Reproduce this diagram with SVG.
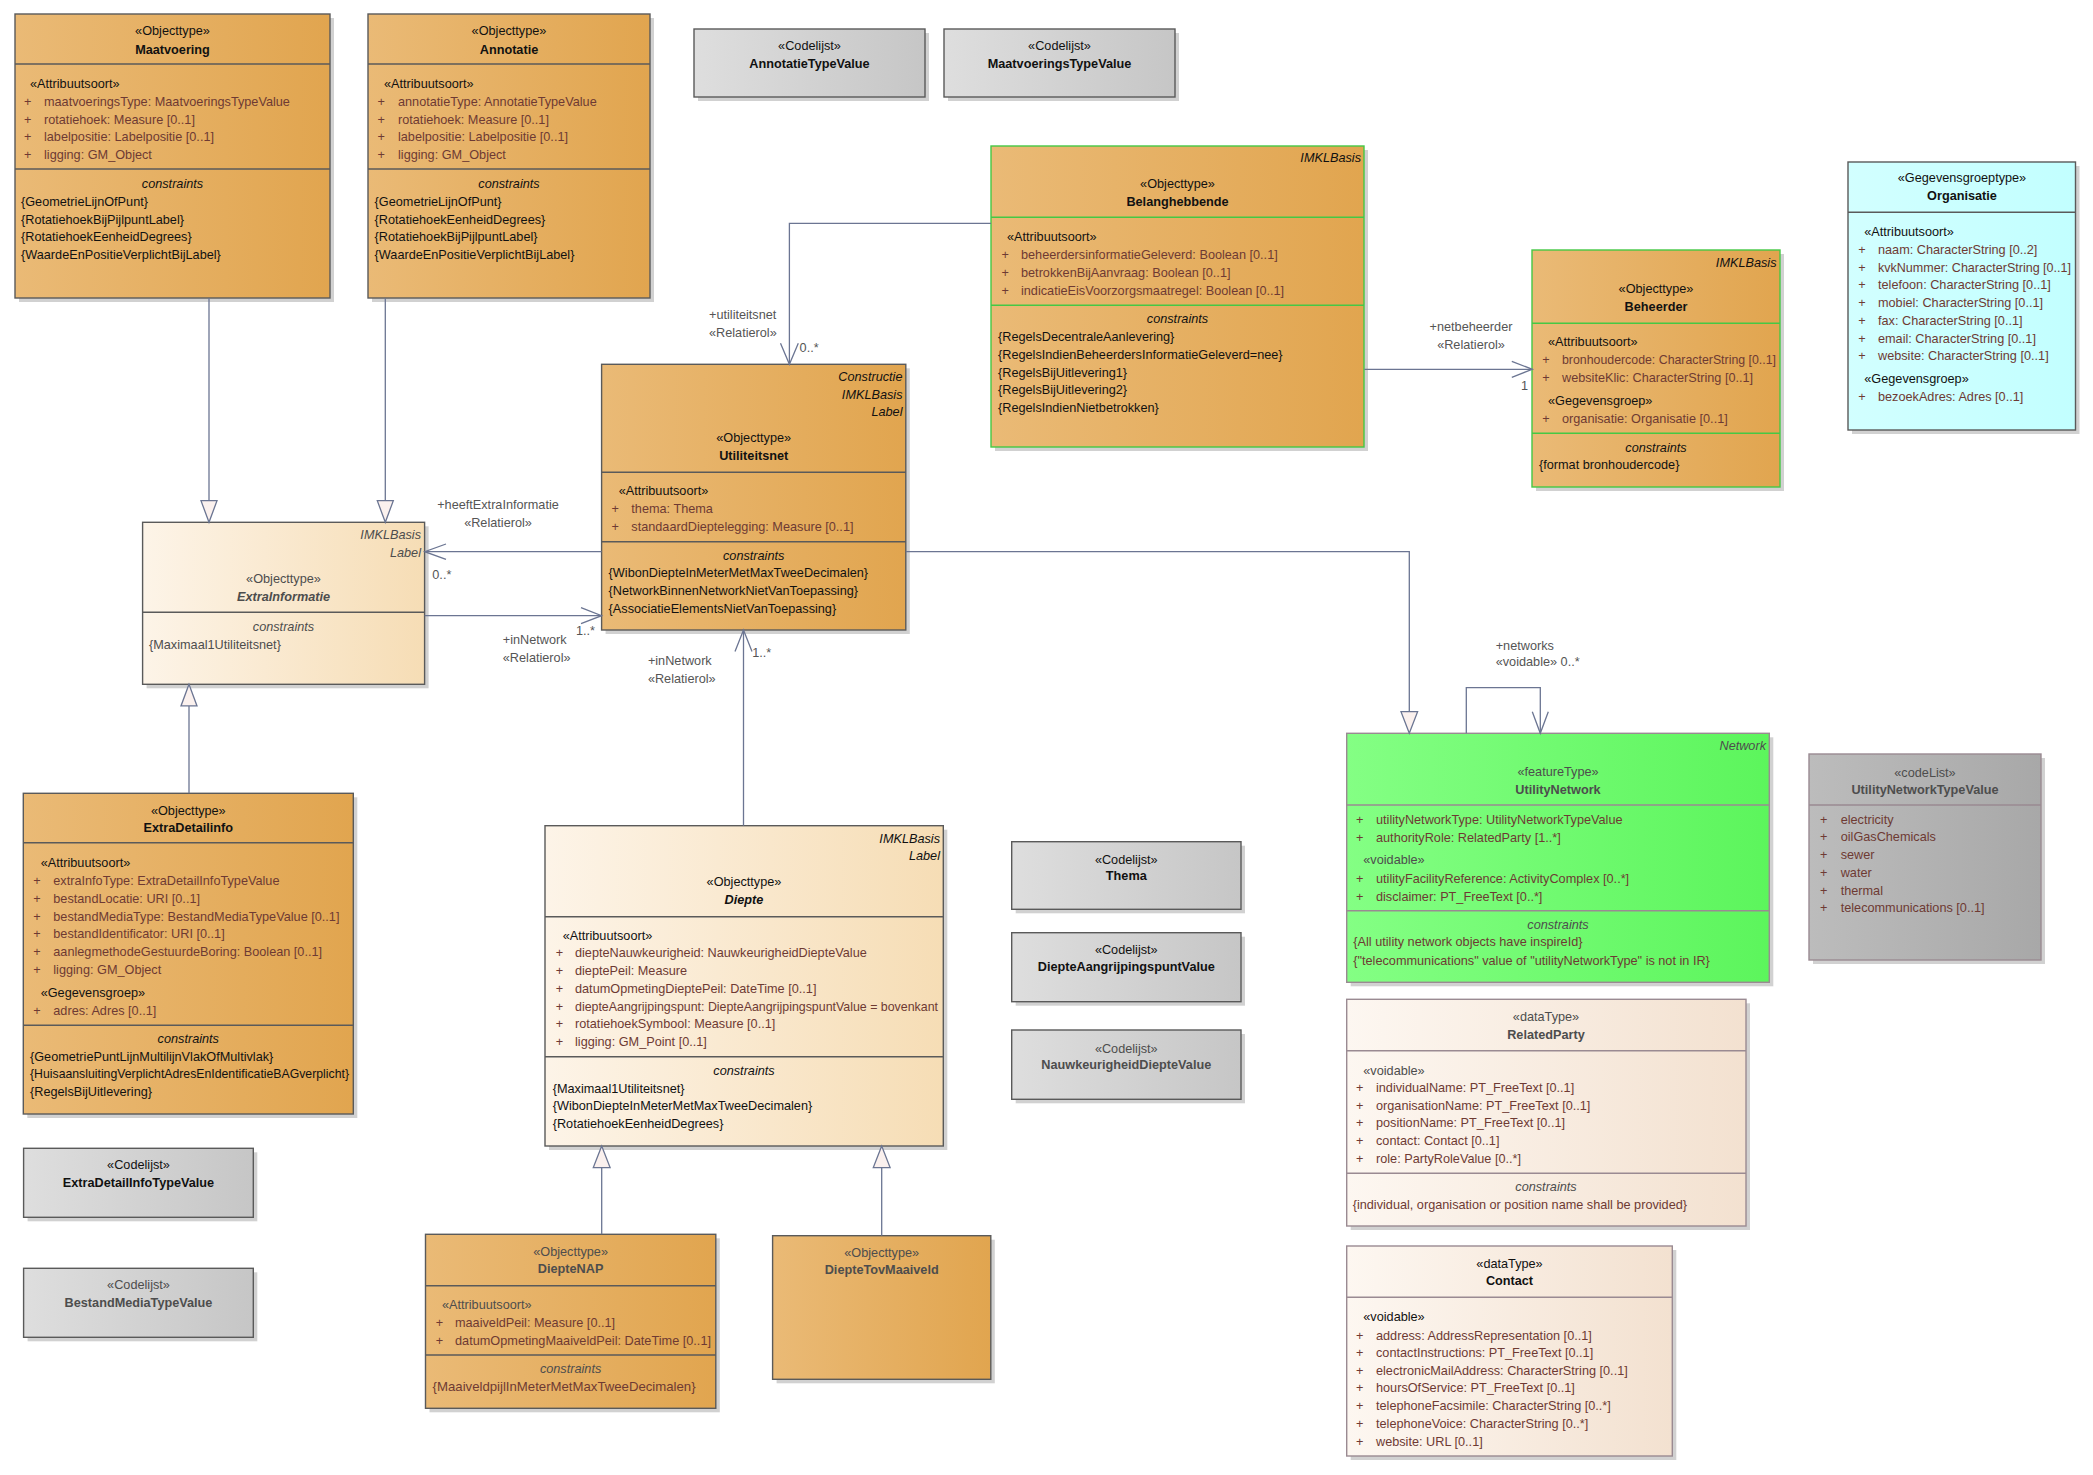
<svg xmlns="http://www.w3.org/2000/svg" width="2093" height="1475" viewBox="0 0 2093 1475">
<defs>
<linearGradient id="gO" x1="0" x2="1" y1="0" y2="0"><stop offset="0" stop-color="#EABA76"/><stop offset="1" stop-color="#E1A54F"/></linearGradient>
<linearGradient id="gC" x1="0" x2="1" y1="0" y2="0"><stop offset="0" stop-color="#FDF4E8"/><stop offset="1" stop-color="#F6DDB5"/></linearGradient>
<linearGradient id="gG" x1="0" x2="1" y1="0" y2="0"><stop offset="0" stop-color="#DEDEDE"/><stop offset="1" stop-color="#C6C6C6"/></linearGradient>
<linearGradient id="gY" x1="0" x2="1" y1="0" y2="0"><stop offset="0" stop-color="#D2FFFF"/><stop offset="1" stop-color="#C2FFFF"/></linearGradient>
<linearGradient id="gN" x1="0" x2="1" y1="0" y2="0"><stop offset="0" stop-color="#84FF84"/><stop offset="1" stop-color="#5CF55C"/></linearGradient>
<linearGradient id="gD" x1="0" x2="1" y1="0" y2="0"><stop offset="0" stop-color="#BCBCBC"/><stop offset="1" stop-color="#A8A8A8"/></linearGradient>
<linearGradient id="gB" x1="0" x2="1" y1="0" y2="0"><stop offset="0" stop-color="#FDF7F1"/><stop offset="1" stop-color="#F3E1D0"/></linearGradient>
</defs>
<style>
text { font-family: "Liberation Sans", Arial, sans-serif; font-size: 12.7px; fill: #111; }
.b { font-weight: bold; }
.i { font-style: italic; }
.m { text-anchor: middle; }
.e { text-anchor: end; }
.a { fill: #6E3A33; }
.g { fill: #4d4d4d; }
.lb { fill: #555; }
.sh { fill: #c6c6c6; opacity: 0.8; }
.bx { stroke: #5a5a5a; stroke-width: 1.4; }
.gr { stroke: #45C845; stroke-width: 1.4; }
.pu { stroke: #9A8A92; stroke-width: 1.4; }
.cn { stroke: #6B7592; stroke-width: 1.3; fill: none; }
.tri { fill: #FBF1EE; stroke: #6B7592; stroke-width: 1.3; }
</style>
<rect width="2093" height="1475" fill="#ffffff"/>

<g id="Maatvoering">
<rect class="sh" x="19" y="18" width="315" height="284"/>
<rect class="bx" x="15" y="14" width="315" height="284" fill="url(#gO)"/>
<line class="bx" x1="15" y1="64" x2="330" y2="64"/>
<line class="bx" x1="15" y1="169" x2="330" y2="169"/>
<text class="m" x="172.5" y="35.2">«Objecttype»</text>
<text class="m b" x="172.5" y="53.5">Maatvoering</text>
<text x="30" y="88">«Attribuutsoort»</text>
<text class="a" x="24" y="106.2">+</text><text class="a" x="44" y="106.2">maatvoeringsType: MaatvoeringsTypeValue</text>
<text class="a" x="24" y="123.8">+</text><text class="a" x="44" y="123.8">rotatiehoek: Measure [0..1]</text>
<text class="a" x="24" y="141.4">+</text><text class="a" x="44" y="141.4">labelpositie: Labelpositie [0..1]</text>
<text class="a" x="24" y="159">+</text><text class="a" x="44" y="159">ligging: GM_Object</text>
<text class="m i" x="172.5" y="188.2">constraints</text>
<text x="21" y="206.2">{GeometrieLijnOfPunt}</text>
<text x="21" y="223.7">{RotatiehoekBijPijlpuntLabel}</text>
<text x="21" y="241.2">{RotatiehoekEenheidDegrees}</text>
<text x="21" y="258.8">{WaardeEnPositieVerplichtBijLabel}</text>
</g>

<g id="Annotatie">
<rect class="sh" x="372" y="18" width="282" height="284"/>
<rect class="bx" x="368" y="14" width="282" height="284" fill="url(#gO)"/>
<line class="bx" x1="368" y1="64" x2="650" y2="64"/>
<line class="bx" x1="368" y1="169" x2="650" y2="169"/>
<text class="m" x="509" y="35.2">«Objecttype»</text>
<text class="m b" x="509" y="53.5">Annotatie</text>
<text x="384" y="88">«Attribuutsoort»</text>
<text class="a" x="377.6" y="106.2">+</text><text class="a" x="398" y="106.2">annotatieType: AnnotatieTypeValue</text>
<text class="a" x="377.6" y="123.8">+</text><text class="a" x="398" y="123.8">rotatiehoek: Measure [0..1]</text>
<text class="a" x="377.6" y="141.4">+</text><text class="a" x="398" y="141.4">labelpositie: Labelpositie [0..1]</text>
<text class="a" x="377.6" y="159">+</text><text class="a" x="398" y="159">ligging: GM_Object</text>
<text class="m i" x="509" y="188.2">constraints</text>
<text x="374.6" y="206.2">{GeometrieLijnOfPunt}</text>
<text x="374.6" y="223.7">{RotatiehoekEenheidDegrees}</text>
<text x="374.6" y="241.2">{RotatiehoekBijPijlpuntLabel}</text>
<text x="374.6" y="258.8">{WaardeEnPositieVerplichtBijLabel}</text>
</g>

<g id="AnnotatieTypeValue">
<rect class="sh" x="698" y="33" width="231" height="68"/>
<rect class="bx" x="694" y="29" width="231" height="68" fill="url(#gG)"/>
<text class="m" x="809.5" y="50.2">«Codelijst»</text>
<text class="m b" x="809.5" y="67.8">AnnotatieTypeValue</text>
</g>

<g id="MaatvoeringsTypeValue">
<rect class="sh" x="948" y="33" width="231" height="68"/>
<rect class="bx" x="944" y="29" width="231" height="68" fill="url(#gG)"/>
<text class="m" x="1059.5" y="50.2">«Codelijst»</text>
<text class="m b" x="1059.5" y="67.8">MaatvoeringsTypeValue</text>
</g>

<g id="Belanghebbende">
<rect class="sh" x="995" y="150" width="373" height="301"/>
<rect class="gr" x="991" y="146" width="373" height="301" fill="url(#gO)"/>
<line class="gr" x1="991" y1="217.3" x2="1364" y2="217.3"/>
<line class="gr" x1="991" y1="305.3" x2="1364" y2="305.3"/>
<text class="e i" x="1361" y="162">IMKLBasis</text>
<text class="m" x="1177.5" y="187.8">«Objecttype»</text>
<text class="m b" x="1177.5" y="205.8">Belanghebbende</text>
<text x="1007" y="241.2">«Attribuutsoort»</text>
<text class="a" x="1001.4" y="259.2">+</text><text class="a" x="1021" y="259.2">beheerdersinformatieGeleverd: Boolean [0..1]</text>
<text class="a" x="1001.4" y="277.2">+</text><text class="a" x="1021" y="277.2">betrokkenBijAanvraag: Boolean [0..1]</text>
<text class="a" x="1001.4" y="295.2">+</text><text class="a" x="1021" y="295.2">indicatieEisVoorzorgsmaatregel: Boolean [0..1]</text>
<text class="m i" x="1177.5" y="323.2">constraints</text>
<text x="998" y="341.2">{RegelsDecentraleAanlevering}</text>
<text x="998" y="359">{RegelsIndienBeheerdersInformatieGeleverd=nee}</text>
<text x="998" y="376.8">{RegelsBijUitlevering1}</text>
<text x="998" y="394.3">{RegelsBijUitlevering2}</text>
<text x="998" y="411.8">{RegelsIndienNietbetrokken}</text>
</g>

<g id="Beheerder">
<rect class="sh" x="1536" y="254" width="248" height="237"/>
<rect class="gr" x="1532" y="250" width="248" height="237" fill="url(#gO)"/>
<line class="gr" x1="1532" y1="323.3" x2="1780" y2="323.3"/>
<line class="gr" x1="1532" y1="433.3" x2="1780" y2="433.3"/>
<text class="e i" x="1776.5" y="267.2">IMKLBasis</text>
<text class="m" x="1656" y="292.8">«Objecttype»</text>
<text class="m b" x="1656" y="311.2">Beheerder</text>
<text x="1548" y="346.2">«Attribuutsoort»</text>
<text class="a" x="1542.3" y="364.2">+</text><text class="a" x="1562" y="364.2" textLength="214" lengthAdjust="spacingAndGlyphs">bronhoudercode: CharacterString [0..1]</text>
<text class="a" x="1542.3" y="382.2">+</text><text class="a" x="1562" y="382.2">websiteKlic: CharacterString [0..1]</text>
<text x="1548" y="404.5">«Gegevensgroep»</text>
<text class="a" x="1542.3" y="423.2">+</text><text class="a" x="1562" y="423.2">organisatie: Organisatie [0..1]</text>
<text class="m i" x="1656" y="452.2">constraints</text>
<text x="1539" y="468.8">{format bronhoudercode}</text>
</g>

<g id="Organisatie">
<rect class="sh" x="1852" y="166" width="227.5" height="268"/>
<rect class="bx" x="1848" y="162" width="227.5" height="268" fill="url(#gY)"/>
<line class="bx" x1="1848" y1="212.3" x2="2075.5" y2="212.3"/>
<text class="m" x="1962" y="182.2">«Gegevensgroeptype»</text>
<text class="m b" x="1962" y="200.2">Organisatie</text>
<text x="1864.3" y="235.8">«Attribuutsoort»</text>
<text class="a" x="1858.3" y="253.8">+</text><text class="a" x="1878" y="253.8">naam: CharacterString [0..2]</text>
<text class="a" x="1858.3" y="271.5">+</text><text class="a" x="1878" y="271.5" textLength="193" lengthAdjust="spacingAndGlyphs">kvkNummer: CharacterString [0..1]</text>
<text class="a" x="1858.3" y="289.2">+</text><text class="a" x="1878" y="289.2">telefoon: CharacterString [0..1]</text>
<text class="a" x="1858.3" y="307">+</text><text class="a" x="1878" y="307">mobiel: CharacterString [0..1]</text>
<text class="a" x="1858.3" y="324.8">+</text><text class="a" x="1878" y="324.8">fax: CharacterString [0..1]</text>
<text class="a" x="1858.3" y="342.5">+</text><text class="a" x="1878" y="342.5">email: CharacterString [0..1]</text>
<text class="a" x="1858.3" y="360.2">+</text><text class="a" x="1878" y="360.2">website: CharacterString [0..1]</text>
<text x="1864.3" y="383.2">«Gegevensgroep»</text>
<text class="a" x="1858.3" y="401.2">+</text><text class="a" x="1878" y="401.2">bezoekAdres: Adres [0..1]</text>
</g>

<g id="ExtraInformatie">
<rect class="sh" x="146.6" y="526.3" width="282" height="162"/>
<rect class="bx" x="142.6" y="522.3" width="282" height="162" fill="url(#gC)"/>
<line class="bx" x1="142.6" y1="612.3" x2="424.6" y2="612.3"/>
<text class="e i g" x="421" y="538.8">IMKLBasis</text>
<text class="e i g" x="421" y="556.8">Label</text>
<text class="m g" x="283.5" y="583.2">«Objecttype»</text>
<text class="m b i g" x="283.5" y="601.2">ExtraInformatie</text>
<text class="m i g" x="283.5" y="631.2">constraints</text>
<text class="g" x="149" y="648.8">{Maximaal1Utiliteitsnet}</text>
</g>

<g id="Utiliteitsnet">
<rect class="sh" x="605.6" y="368.3" width="304.2" height="265.7"/>
<rect class="bx" x="601.6" y="364.3" width="304.2" height="265.7" fill="url(#gO)"/>
<line class="bx" x1="601.6" y1="472.3" x2="905.8" y2="472.3"/>
<line class="bx" x1="601.6" y1="541.7" x2="905.8" y2="541.7"/>
<text class="e i" x="902.5" y="381.2">Constructie</text>
<text class="e i" x="902.5" y="398.5">IMKLBasis</text>
<text class="e i" x="902.5" y="416.2">Label</text>
<text class="m" x="753.7" y="442.2">«Objecttype»</text>
<text class="m b" x="753.7" y="459.8">Utiliteitsnet</text>
<text x="618.7" y="495.2">«Attribuutsoort»</text>
<text class="a" x="611.6" y="513.2">+</text><text class="a" x="631.3" y="513.2">thema: Thema</text>
<text class="a" x="611.6" y="531.2">+</text><text class="a" x="631.3" y="531.2">standaardDieptelegging: Measure [0..1]</text>
<text class="m i" x="753.7" y="560.2">constraints</text>
<text x="608.6" y="577">{WibonDiepteInMeterMetMaxTweeDecimalen}</text>
<text x="608.6" y="595">{NetworkBinnenNetworkNietVanToepassing}</text>
<text x="608.6" y="612.8">{AssociatieElementsNietVanToepassing}</text>
</g>

<g id="ExtraDetailInfo">
<rect class="sh" x="27.3" y="797.3" width="330" height="320.7"/>
<rect class="bx" x="23.3" y="793.3" width="330" height="320.7" fill="url(#gO)"/>
<line class="bx" x1="23.3" y1="842.7" x2="353.3" y2="842.7"/>
<line class="bx" x1="23.3" y1="1025.3" x2="353.3" y2="1025.3"/>
<text class="m" x="188.3" y="814.5">«Objecttype»</text>
<text class="m b" x="188.3" y="832.2">ExtraDetailinfo</text>
<text x="40.7" y="866.8">«Attribuutsoort»</text>
<text class="a" x="33.3" y="885.2">+</text><text class="a" x="53.3" y="885.2">extraInfoType: ExtraDetailInfoTypeValue</text>
<text class="a" x="33.3" y="902.8">+</text><text class="a" x="53.3" y="902.8">bestandLocatie: URI [0..1]</text>
<text class="a" x="33.3" y="920.5">+</text><text class="a" x="53.3" y="920.5">bestandMediaType: BestandMediaTypeValue [0..1]</text>
<text class="a" x="33.3" y="938.3">+</text><text class="a" x="53.3" y="938.3">bestandIdentificator: URI [0..1]</text>
<text class="a" x="33.3" y="956.2">+</text><text class="a" x="53.3" y="956.2">aanlegmethodeGestuurdeBoring: Boolean [0..1]</text>
<text class="a" x="33.3" y="973.8">+</text><text class="a" x="53.3" y="973.8">ligging: GM_Object</text>
<text x="40.7" y="997.2">«Gegevensgroep»</text>
<text class="a" x="33.3" y="1015.2">+</text><text class="a" x="53.3" y="1015.2">adres: Adres [0..1]</text>
<text class="m i" x="188.3" y="1042.8">constraints</text>
<text x="30" y="1060.5">{GeometriePuntLijnMultilijnVlakOfMultivlak}</text>
<text x="30" y="1078.2" textLength="319" lengthAdjust="spacingAndGlyphs">{HuisaansluitingVerplichtAdresEnIdentificatieBAGverplicht}</text>
<text x="30" y="1096">{RegelsBijUitlevering}</text>
</g>

<g id="ExtraDetailInfoTypeValue">
<rect class="sh" x="27.6" y="1152.3" width="229.7" height="69"/>
<rect class="bx" x="23.6" y="1148.3" width="229.7" height="69" fill="url(#gG)"/>
<text class="m" x="138.5" y="1168.8">«Codelijst»</text>
<text class="m b" x="138.5" y="1187.2">ExtraDetailInfoTypeValue</text>
</g>

<g id="BestandMediaTypeValue">
<rect class="sh" x="27.6" y="1272.3" width="229.7" height="69"/>
<rect class="bx" x="23.6" y="1268.3" width="229.7" height="69" fill="url(#gG)"/>
<text class="m g" x="138.5" y="1288.8">«Codelijst»</text>
<text class="m b g" x="138.5" y="1307.2">BestandMediaTypeValue</text>
</g>

<g id="Diepte">
<rect class="sh" x="549" y="829.7" width="398.3" height="320.3"/>
<rect class="bx" x="545" y="825.7" width="398.3" height="320.3" fill="url(#gC)"/>
<line class="bx" x1="545" y1="916.7" x2="943.3" y2="916.7"/>
<line class="bx" x1="545" y1="1056.7" x2="943.3" y2="1056.7"/>
<text class="e i" x="940" y="842.8">IMKLBasis</text>
<text class="e i" x="940" y="859.5">Label</text>
<text class="m" x="744" y="886.2">«Objecttype»</text>
<text class="m b i" x="744" y="903.8">Diepte</text>
<text x="562.7" y="939.8">«Attribuutsoort»</text>
<text class="a" x="555.7" y="957.2">+</text><text class="a" x="575" y="957.2">diepteNauwkeurigheid: NauwkeurigheidDiepteValue</text>
<text class="a" x="555.7" y="975">+</text><text class="a" x="575" y="975">dieptePeil: Measure</text>
<text class="a" x="555.7" y="992.7">+</text><text class="a" x="575" y="992.7">datumOpmetingDieptePeil: DateTime [0..1]</text>
<text class="a" x="555.7" y="1010.6">+</text><text class="a" x="575" y="1010.6" textLength="363" lengthAdjust="spacingAndGlyphs">diepteAangrijpingspunt: DiepteAangrijpingspuntValue = bovenkant</text>
<text class="a" x="555.7" y="1028">+</text><text class="a" x="575" y="1028">rotatiehoekSymbool: Measure [0..1]</text>
<text class="a" x="555.7" y="1045.9">+</text><text class="a" x="575" y="1045.9">ligging: GM_Point [0..1]</text>
<text class="m i" x="744" y="1074.5">constraints</text>
<text x="552.7" y="1092.8">{Maximaal1Utiliteitsnet}</text>
<text x="552.7" y="1110.3">{WibonDiepteInMeterMetMaxTweeDecimalen}</text>
<text x="552.7" y="1127.8">{RotatiehoekEenheidDegrees}</text>
</g>

<g id="Thema">
<rect class="sh" x="1015.7" y="845.7" width="229.3" height="67.6"/>
<rect class="bx" x="1011.7" y="841.7" width="229.3" height="67.6" fill="url(#gG)"/>
<text class="m" x="1126.3" y="863.5">«Codelijst»</text>
<text class="m b" x="1126.3" y="879.5">Thema</text>
</g>

<g id="DiepteAangrijpingspuntValue">
<rect class="sh" x="1015.7" y="936.7" width="229.3" height="69"/>
<rect class="bx" x="1011.7" y="932.7" width="229.3" height="69" fill="url(#gG)"/>
<text class="m" x="1126.3" y="953.8">«Codelijst»</text>
<text class="m b" x="1126.3" y="971.2">DiepteAangrijpingspuntValue</text>
</g>

<g id="NauwkeurigheidDiepteValue">
<rect class="sh" x="1015.7" y="1034" width="229.3" height="69.3"/>
<rect class="bx" x="1011.7" y="1030" width="229.3" height="69.3" fill="url(#gG)"/>
<text class="m g" x="1126.3" y="1052.8">«Codelijst»</text>
<text class="m b g" x="1126.3" y="1068.8">NauwkeurigheidDiepteValue</text>
</g>

<g id="DiepteNAP">
<rect class="sh" x="429.5" y="1238.3" width="290.3" height="174"/>
<rect class="bx" x="425.5" y="1234.3" width="290.3" height="174" fill="url(#gO)"/>
<line class="bx" x1="425.5" y1="1285.7" x2="715.8" y2="1285.7"/>
<line class="bx" x1="425.5" y1="1355" x2="715.8" y2="1355"/>
<text class="m g" x="570.6" y="1255.5">«Objecttype»</text>
<text class="m b g" x="570.6" y="1272.8">DiepteNAP</text>
<text class="g" x="442" y="1308.8">«Attribuutsoort»</text>
<text class="a" x="435.8" y="1326.5">+</text><text class="a" x="455" y="1326.5">maaiveldPeil: Measure [0..1]</text>
<text class="a" x="435.8" y="1344.5">+</text><text class="a" x="455" y="1344.5" textLength="256" lengthAdjust="spacingAndGlyphs">datumOpmetingMaaiveldPeil: DateTime [0..1]</text>
<text class="m i g" x="570.6" y="1373.2">constraints</text>
<text class="a" x="432.6" y="1391.2" textLength="263" lengthAdjust="spacingAndGlyphs">{MaaiveldpijlInMeterMetMaxTweeDecimalen}</text>
</g>

<g id="DiepteTovMaaiveld">
<rect class="sh" x="776.6" y="1239.7" width="218.2" height="143.6"/>
<rect class="bx" x="772.6" y="1235.7" width="218.2" height="143.6" fill="url(#gO)"/>
<text class="m g" x="881.7" y="1257.2">«Objecttype»</text>
<text class="m b g" x="881.7" y="1274.2">DiepteTovMaaiveld</text>
</g>

<g id="UtilityNetwork">
<rect class="sh" x="1350.7" y="737.3" width="422.6" height="249"/>
<rect class="pu" x="1346.7" y="733.3" width="422.6" height="249" fill="url(#gN)"/>
<line class="pu" x1="1346.7" y1="805" x2="1769.3" y2="805"/>
<line class="pu" x1="1346.7" y1="910.7" x2="1769.3" y2="910.7"/>
<text class="e i g" x="1766" y="750.2">Network</text>
<text class="m g" x="1558" y="776.2">«featureType»</text>
<text class="m b g" x="1558" y="793.5">UtilityNetwork</text>
<text class="a" x="1356" y="823.5">+</text><text class="a" x="1376" y="823.5">utilityNetworkType: UtilityNetworkTypeValue</text>
<text class="a" x="1356" y="841.5">+</text><text class="a" x="1376" y="841.5">authorityRole: RelatedParty [1..*]</text>
<text class="g" x="1363.3" y="863.8">«voidable»</text>
<text class="a" x="1356" y="882.5">+</text><text class="a" x="1376" y="882.5">utilityFacilityReference: ActivityComplex [0..*]</text>
<text class="a" x="1356" y="900.5">+</text><text class="a" x="1376" y="900.5">disclaimer: PT_FreeText [0..*]</text>
<text class="m i g" x="1558" y="929.2">constraints</text>
<text class="a" x="1353.3" y="946.2">{All utility network objects have inspireId}</text>
<text class="a" x="1353.3" y="964.5">{"telecommunications" value of "utilityNetworkType" is not in IR}</text>
</g>

<g id="UtilityNetworkTypeValue">
<rect class="sh" x="1813" y="758" width="232" height="206"/>
<rect class="pu" x="1809" y="754" width="232" height="206" fill="url(#gD)"/>
<line class="pu" x1="1809" y1="805" x2="2041" y2="805"/>
<text class="m g" x="1925" y="777.2">«codeList»</text>
<text class="m b g" x="1925" y="793.5">UtilityNetworkTypeValue</text>
<text class="a" x="1820" y="823.5">+</text><text class="a" x="1840.7" y="823.5">electricity</text>
<text class="a" x="1820" y="841.2">+</text><text class="a" x="1840.7" y="841.2">oilGasChemicals</text>
<text class="a" x="1820" y="858.8">+</text><text class="a" x="1840.7" y="858.8">sewer</text>
<text class="a" x="1820" y="876.8">+</text><text class="a" x="1840.7" y="876.8">water</text>
<text class="a" x="1820" y="894.5">+</text><text class="a" x="1840.7" y="894.5">thermal</text>
<text class="a" x="1820" y="912.2">+</text><text class="a" x="1840.7" y="912.2">telecommunications [0..1]</text>
</g>

<g id="RelatedParty">
<rect class="sh" x="1350.7" y="1003.3" width="399.3" height="226.7"/>
<rect class="pu" x="1346.7" y="999.3" width="399.3" height="226.7" fill="url(#gB)"/>
<line class="pu" x1="1346.7" y1="1050.7" x2="1746" y2="1050.7"/>
<line class="pu" x1="1346.7" y1="1173.3" x2="1746" y2="1173.3"/>
<text class="m g" x="1546" y="1020.5">«dataType»</text>
<text class="m b g" x="1546" y="1038.8">RelatedParty</text>
<text class="g" x="1363.3" y="1074.5">«voidable»</text>
<text class="a" x="1356" y="1091.8">+</text><text class="a" x="1376" y="1091.8">individualName: PT_FreeText [0..1]</text>
<text class="a" x="1356" y="1109.6">+</text><text class="a" x="1376" y="1109.6">organisationName: PT_FreeText [0..1]</text>
<text class="a" x="1356" y="1127.3">+</text><text class="a" x="1376" y="1127.3">positionName: PT_FreeText [0..1]</text>
<text class="a" x="1356" y="1145.2">+</text><text class="a" x="1376" y="1145.2">contact: Contact [0..1]</text>
<text class="a" x="1356" y="1162.8">+</text><text class="a" x="1376" y="1162.8">role: PartyRoleValue [0..*]</text>
<text class="m i g" x="1546" y="1191.2">constraints</text>
<text class="a" x="1352.7" y="1208.8">{individual, organisation or position name shall be provided}</text>
</g>

<g id="Contact">
<rect class="sh" x="1350.7" y="1250" width="325.6" height="210"/>
<rect class="pu" x="1346.7" y="1246" width="325.6" height="210" fill="url(#gB)"/>
<line class="pu" x1="1346.7" y1="1297.3" x2="1672.3" y2="1297.3"/>
<text class="m" x="1509.5" y="1267.8">«dataType»</text>
<text class="m b" x="1509.5" y="1284.5">Contact</text>
<text x="1363.3" y="1321.2">«voidable»</text>
<text class="a" x="1356" y="1339.5">+</text><text class="a" x="1376" y="1339.5">address: AddressRepresentation [0..1]</text>
<text class="a" x="1356" y="1357.2">+</text><text class="a" x="1376" y="1357.2">contactInstructions: PT_FreeText [0..1]</text>
<text class="a" x="1356" y="1374.7">+</text><text class="a" x="1376" y="1374.7">electronicMailAddress: CharacterString [0..1]</text>
<text class="a" x="1356" y="1392.3">+</text><text class="a" x="1376" y="1392.3">hoursOfService: PT_FreeText [0..1]</text>
<text class="a" x="1356" y="1410.2">+</text><text class="a" x="1376" y="1410.2">telephoneFacsimile: CharacterString [0..*]</text>
<text class="a" x="1356" y="1427.8">+</text><text class="a" x="1376" y="1427.8">telephoneVoice: CharacterString [0..*]</text>
<text class="a" x="1356" y="1445.5">+</text><text class="a" x="1376" y="1445.5">website: URL [0..1]</text>
</g>

<g id="connectors">
<!-- Maatvoering -> ExtraInformatie -->
<line class="cn" x1="209" y1="298" x2="209" y2="500.7"/>
<polygon class="tri" points="209,522.3 201,500.7 217,500.7"/>
<!-- Annotatie -> ExtraInformatie -->
<line class="cn" x1="385.3" y1="298" x2="385.3" y2="500.7"/>
<polygon class="tri" points="385.3,522.3 377.3,500.7 393.3,500.7"/>
<!-- ExtraDetailInfo -> ExtraInformatie -->
<line class="cn" x1="189" y1="793.3" x2="189" y2="705.9"/>
<polygon class="tri" points="189,684.3 181,705.9 197,705.9"/>
<!-- Belanghebbende -> Utiliteitsnet -->
<polyline class="cn" points="991,223.3 789.4,223.3 789.4,364.3"/>
<polyline class="cn" points="780.5,343.3 789.4,364.3 798.3,343.3"/>
<text class="lb" x="709" y="318.8">+utiliteitsnet</text>
<text class="lb" x="709" y="336.8">«Relatierol»</text>
<text class="lb" x="799.6" y="352.2">0..*</text>
<!-- Belanghebbende -> Beheerder -->
<line class="cn" x1="1364.3" y1="369.3" x2="1532.3" y2="369.3"/>
<polyline class="cn" points="1511.8,361.3 1532.3,369.3 1511.8,377.3"/>
<text class="lb m" x="1471" y="331.2">+netbeheerder</text>
<text class="lb m" x="1471" y="348.8">«Relatierol»</text>
<text class="lb m" x="1524.6" y="389.5">1</text>
<!-- Utiliteitsnet -> ExtraInformatie (heeftExtraInformatie) -->
<line class="cn" x1="601.6" y1="551.7" x2="424.7" y2="551.7"/>
<polyline class="cn" points="446,544 424.7,551.7 446,559.4"/>
<text class="lb m" x="498" y="508.8">+heeftExtraInformatie</text>
<text class="lb m" x="498" y="526.8">«Relatierol»</text>
<text class="lb" x="432.3" y="578.8">0..*</text>
<!-- ExtraInformatie -> Utiliteitsnet (inNetwork) -->
<line class="cn" x1="424.7" y1="615.7" x2="601.6" y2="615.7"/>
<polyline class="cn" points="581,607.7 601.6,615.7 581,623.7"/>
<text class="lb" x="575.9" y="634.5">1..*</text>
<text class="lb" x="502.8" y="643.8">+inNetwork</text>
<text class="lb" x="502.8" y="661.8">«Relatierol»</text>
<!-- Diepte -> Utiliteitsnet (inNetwork) -->
<line class="cn" x1="743.5" y1="825.7" x2="743.5" y2="630"/>
<polyline class="cn" points="735,651.5 743.5,630 752,651.5"/>
<text class="lb" x="752.2" y="657.2">1..*</text>
<text class="lb" x="647.9" y="665.2">+inNetwork</text>
<text class="lb" x="647.9" y="682.8">«Relatierol»</text>
<!-- Utiliteitsnet -> UtilityNetwork -->
<polyline class="cn" points="905.8,551.7 1409.3,551.7 1409.3,711.7"/>
<polygon class="tri" points="1409.3,733.3 1401,711.7 1417.6,711.7"/>
<!-- UtilityNetwork self association -->
<polyline class="cn" points="1466.3,733.3 1466.3,687.7 1540.3,687.7 1540.3,733.3"/>
<polyline class="cn" points="1532.3,711.7 1540.3,733.3 1548.3,711.7"/>
<text class="lb" x="1495.7" y="649.5">+networks</text>
<text class="lb" x="1495.7" y="666.2">«voidable» 0..*</text>
<!-- DiepteNAP -> Diepte -->
<line class="cn" x1="601.7" y1="1234.3" x2="601.7" y2="1167.6"/>
<polygon class="tri" points="601.7,1146 593.3,1167.6 610.1,1167.6"/>
<!-- DiepteTovMaaiveld -> Diepte -->
<line class="cn" x1="881.7" y1="1235.7" x2="881.7" y2="1167.6"/>
<polygon class="tri" points="881.7,1146 873.3,1167.6 890.1,1167.6"/>
</g>
</svg>
